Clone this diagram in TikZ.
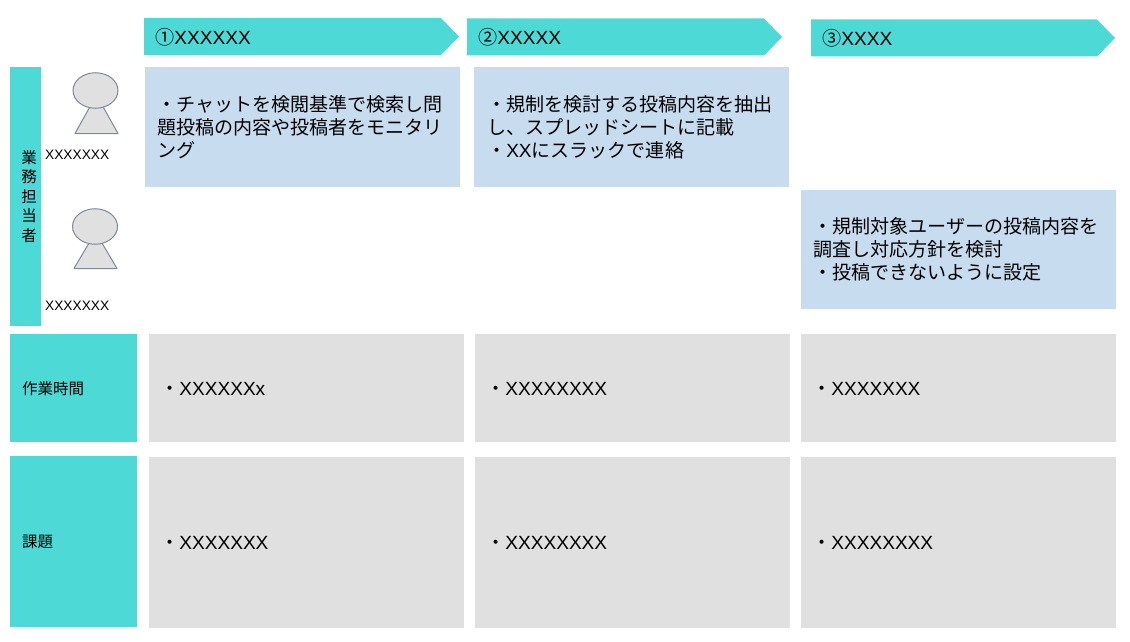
\documentclass[tikz,border=0pt]{standalone}
\usepackage{fontspec}
\setmainfont{Liberation Sans}
\newfontfamily\cjk{Noto Sans CJK JP}
\usetikzlibrary{shapes.geometric}
\definecolor{tealc}{HTML}{4DD9D6}
\definecolor{bluec}{HTML}{C8DCF0}
\definecolor{grayc}{HTML}{E0E0E0}
\definecolor{linec}{HTML}{7F8898}
\tikzset{
  x=1pt,y=-1pt,
  boxb/.style={fill=bluec,draw=none,inner sep=0},
  boxg/.style={fill=grayc,draw=none,inner sep=0},
  boxt/.style={fill=tealc,draw=none,inner sep=0},
  body/.style={anchor=west,align=left,inner sep=0,font=\fontsize{19.05}{23}\selectfont\cjk},
  gtext/.style={anchor=west,inner sep=0,font=\fontsize{19.1}{23}\selectfont},
  head/.style={anchor=west,inner sep=0,font=\fontsize{19.1}{23}\selectfont},
  small/.style={anchor=west,inner sep=0,font=\fontsize{13.7}{16}\selectfont},
  side/.style={anchor=west,inner sep=0,font=\fontsize{15.5}{19}\selectfont\cjk},
  vside/.style={anchor=center,align=center,inner sep=0,font=\fontsize{15.5}{19.4}\selectfont\cjk},
  personc/.style={ellipse,draw=linec,fill=grayc,line width=1pt,inner sep=0,minimum width=45pt,minimum height=35.5pt},
  persont/.style={draw=linec,fill=grayc,line width=1pt,line join=round}
}
\newcommand{\dotj}{{\cjk ・}}
\begin{document}
\begin{tikzpicture}
\useasboundingbox (0,0) rectangle (1130,642);
% arrows
\fill[tealc] (144,18) -- (441,18) -- (459,36.5) -- (441,55) -- (144,55) -- cycle;
\fill[tealc] (467,18.5) -- (764,18.5) -- (782,37) -- (764,55.5) -- (467,55.5) -- cycle;
\fill[tealc] (811,19.5) -- (1097,19.5) -- (1115,38) -- (1097,56.5) -- (811,56.5) -- cycle;
\node[head] (h1) at (155,37) {{\cjk ①}XXXXXX};
\node[head] (h2) at (478,37) {{\cjk ②}XXXXX};
\node[head] (h3) at (822,38.5) {{\cjk ③}XXXX};
% side bars
\node[boxt,minimum width=31pt,minimum height=259pt] (s1) at (25.5,196.5) {};
\node[vside] (s1t) at (29,196.5) {業\\務\\担\\当\\者};
\node[boxt,minimum width=127pt,minimum height=108pt] (s2) at (73.5,388) {};
\node[side] (s2t) at (22,388.5) {作業時間};
\node[boxt,minimum width=127pt,minimum height=171pt] (s3) at (73.5,541.5) {};
\node[side] (s3t) at (22,541.5) {課題};
% persons
\draw[persont] (75,133.5) -- (118,133.5) -- (96.5,95) -- cycle;
\node[personc] (p1) at (95.5,90.5) {};
\draw[persont] (74,268.5) -- (117,268.5) -- (95.5,232) -- cycle;
\node[personc] (p2) at (95,226.5) {};
\node[small] (l1) at (45,155) {XXXXXXX};
\node[small] (l2) at (45,305.5) {XXXXXXX};
% blue
\node[boxb,minimum width=315pt,minimum height=120pt] (b1) at (302,127) {};
\node[boxb,minimum width=315pt,minimum height=120pt] (b2) at (631.5,127) {};
\node[boxb,minimum width=315pt,minimum height=119pt] (b3) at (958.2,249.3) {};
\node[body] (t1) at (157,127) {・チャットを検閲基準で検索し問\\題投稿の内容や投稿者をモニタリ\\ング};
\node[body] (t2) at (487,127) {・規制を検討する投稿内容を抽出\\し、スプレッドシートに記載\\・{\fontspec{Liberation Sans}XX}にスラックで連絡};
\node[body] (t3) at (813,249) {・規制対象ユーザーの投稿内容を\\調査し対応方針を検討\\・投稿できないように設定};
% gray
\node[boxg,minimum width=315pt,minimum height=108pt] (g1) at (306.5,387.7) {};
\node[boxg,minimum width=315pt,minimum height=108pt] (g2) at (632.2,387.7) {};
\node[boxg,minimum width=315pt,minimum height=108pt] (g3) at (958.2,387.7) {};
\node[boxg,minimum width=315pt,minimum height=171pt] (g4) at (306.5,542.5) {};
\node[boxg,minimum width=315pt,minimum height=171pt] (g5) at (632.2,542.5) {};
\node[boxg,minimum width=315pt,minimum height=171pt] (g6) at (958.2,542.5) {};
\node[gtext] (x1) at (160,389) {\dotj XXXXXXx};
\node[gtext] (x2) at (486,389) {\dotj XXXXXXXX};
\node[gtext] (x3) at (812,389) {\dotj XXXXXXX};
\node[gtext] (x4) at (160,542.5) {\dotj XXXXXXX};
\node[gtext] (x5) at (486,542.5) {\dotj XXXXXXXX};
\node[gtext] (x6) at (812,542.5) {\dotj XXXXXXXX};
\end{tikzpicture}
\end{document}
